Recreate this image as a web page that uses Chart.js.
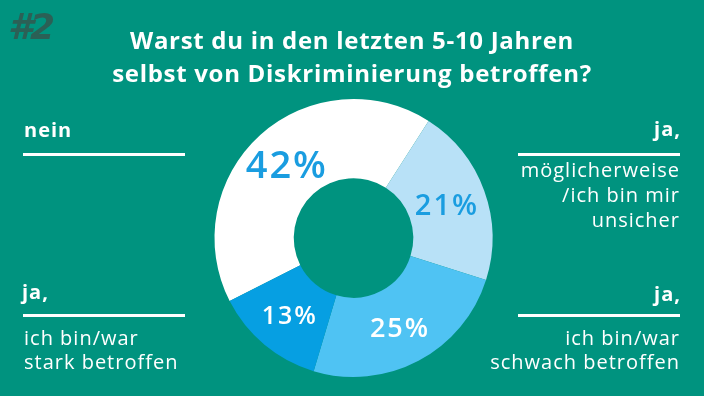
<!DOCTYPE html>
<html><head><meta charset="utf-8">
<script src="https://cdn.jsdelivr.net/npm/chart.js@4/dist/chart.umd.min.js"></script>
<style>
html,body{margin:0;padding:0;}
body{width:704px;height:396px;background:#00937f;position:relative;overflow:hidden;font-family:"Open Sans","Noto Sans",sans-serif;color:#fff;}
#wrap{position:absolute;left:0;top:0;width:704px;height:396px;}
.t{position:absolute;white-space:nowrap;}
.title{left:0;width:704px;text-align:center;font-family:"Open Sans","Noto Sans",sans-serif;font-weight:700;font-size:24px;letter-spacing:0.7px;line-height:33px;top:23px;}
.hash{left:8px;top:6px;font-family:"DejaVu Sans",sans-serif;font-weight:bold;font-style:italic;font-size:36px;color:#2b6056;letter-spacing:-3px;}
.b{font-weight:bold;font-size:20px;letter-spacing:1px;line-height:27px;}
.n{font-size:20px;line-height:24px;letter-spacing:1px;}
.n3{line-height:25px;}
.rule{position:absolute;height:3px;background:#fff;}
.r{text-align:right;}
</style></head>
<body>
<div id="wrap"><canvas id="c" width="704" height="396"></canvas></div>
<div class="t hash">#2</div>
<div class="t title">Warst du in den letzten 5-10 Jahren<br>selbst von Diskriminierung betroffen?</div>

<div class="t b" style="left:24px;top:116px;">nein</div>
<div class="rule" style="left:23px;top:153px;width:162px;"></div>

<div class="t b" style="left:22px;top:278px;">ja,</div>
<div class="rule" style="left:23px;top:314px;width:162px;"></div>
<div class="t n" style="left:24px;top:326px;">ich bin/war<br>stark betroffen</div>

<div class="t b r" style="right:23px;top:115px;">ja,</div>
<div class="rule" style="left:518px;top:153px;width:162px;"></div>
<div class="t n n3 r" style="right:24px;top:157px;">möglicherweise<br>/ich bin mir<br>unsicher</div>

<div class="t b r" style="right:23px;top:280px;">ja,</div>
<div class="rule" style="left:518px;top:314px;width:162px;"></div>
<div class="t n r" style="right:24px;top:326px;">ich bin/war<br>schwach betroffen</div>

<script>
const categories = ["nein", "ja, möglicherweise/ich bin mir unsicher", "ja, ich bin/war schwach betroffen", "ja, ich bin/war stark betroffen"];
const values = [42, 21, 25, 13];
const valueLabels = ["42%", "21%", "25%", "13%"];

const sliceColors = ["#ffffff", "#b8e1f7", "#4fc3f3", "#069fe2"];
const labelColors = ["#1a9de0", "#1a9de0", "#ffffff", "#ffffff"];
const labelSizes = [38, 29, 27, 25];

const labelPlugin = {
  id: "pctLabels",
  afterDatasetsDraw(chart) {
    const ctx = chart.ctx;
    const meta = chart.getDatasetMeta(0);
    meta.data.forEach((arc, i) => {
      const p = arc.tooltipPosition();
      ctx.save();
      ctx.font = "600 " + labelSizes[i] + "px 'Open Sans', 'Noto Sans', sans-serif";
      ctx.fillStyle = labelColors[i];
      ctx.textAlign = "center";
      ctx.textBaseline = "middle";
      if (ctx.letterSpacing !== undefined) ctx.letterSpacing = "2px";
      ctx.fillText(valueLabels[i], p.x, p.y + 3);
      ctx.restore();
    });
  }
};

new Chart(document.getElementById("c"), {
  type: "doughnut",
  data: {
    labels: categories,
    datasets: [{
      data: values,
      backgroundColor: sliceColors,
      borderWidth: 0,
      hoverOffset: 0
    }]
  },
  options: {
    responsive: false,
    animation: false,
    rotation: 243,
    cutout: "43%",
    layout: { padding: { left: 214, right: 704 - 493, top: 99, bottom: 396 - 377 } },
    plugins: { legend: { display: false }, tooltip: { enabled: false } }
  },
  plugins: [labelPlugin]
});
</script>
</body></html>
